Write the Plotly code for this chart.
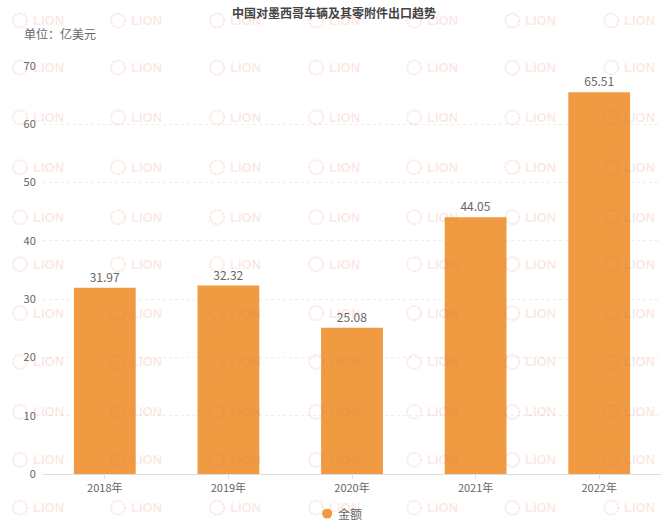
import plotly.graph_objects as go

years = ["2018年", "2019年", "2020年", "2021年", "2022年"]
amounts = [31.97, 32.32, 25.08, 44.05, 65.51]
y_ticks = [0, 10, 20, 30, 40, 50, 60, 70]

# watermark grid, centre of the logo gear in page pixels
mark_cols = [20, 118, 217, 316, 414, 512, 611]
mark_rows = [20, 67, 117, 167, 217, 264, 313, 362, 412, 460, 508]

FONT = "Noto Sans CJK SC"
BAR_COLOR = "#F09A42"
TEXT_COLOR = "#666666"
MARK_COLOR = "rgba(225,120,90,0.18)"

W, H = 668, 528
L, R, T, B = 43, 7.4, 65.5, 53.7


def page_x(px):
    # page pixel -> paper fraction of the plot area
    return (px - L) / (W - L - R)


def page_y(py):
    return 1 - (py - T) / (H - T - B)


fig = go.Figure()

fig.add_trace(go.Bar(
    x=years,
    y=amounts,
    name="金额",
    marker=dict(color=BAR_COLOR, line_width=0),
    text=[f"{v:.2f}" for v in amounts],
    textposition="outside",
    textfont=dict(color=TEXT_COLOR, size=12, family=FONT),
    cliponaxis=False,
    showlegend=False,
))

# --- faint watermark ---
for my in mark_rows:
    for mx in mark_cols:
        fig.add_shape(
            type="circle", xref="paper", yref="paper",
            x0=page_x(mx - 7), x1=page_x(mx + 7),
            y0=page_y(my + 7), y1=page_y(my - 7),
            line=dict(color=MARK_COLOR, width=2, dash="2px,1px"),
        )
        fig.add_annotation(
            x=page_x(mx + 28), y=page_y(my), xref="paper", yref="paper",
            xanchor="center", yanchor="middle",
            text="<b>LION</b>", showarrow=False,
            font=dict(size=13, color=MARK_COLOR, family="Liberation Sans"),
        )

fig.add_annotation(
    x=page_x(22), y=page_y(33), xref="paper", yref="paper",
    xanchor="left", yanchor="middle",
    text="单位：亿美元", showarrow=False,
    font=dict(size=12, color=TEXT_COLOR, family=FONT),
)

# --- legend, plotly's own keeps too wide a gap between swatch and text ---
fig.add_shape(
    type="circle", xref="paper", yref="paper",
    x0=page_x(322), x1=page_x(332),
    y0=page_y(519), y1=page_y(509),
    fillcolor=BAR_COLOR, line_width=0,
)
fig.add_annotation(
    x=page_x(336), y=page_y(514), xref="paper", yref="paper",
    xanchor="left", yanchor="middle",
    text="金额", showarrow=False,
    font=dict(size=12, color=TEXT_COLOR, family=FONT),
)

fig.update_layout(
    title=dict(
        text="<b>中国对墨西哥车辆及其零附件出口趋势</b>",
        x=334 / W, xanchor="center",
        y=1 - 14 / H, yanchor="middle",
        font=dict(size=12, color="#444444", family=FONT),
    ),
    width=W,
    height=H,
    autosize=False,
    margin=dict(l=L, r=R, t=T, b=B, autoexpand=False),
    bargap=0.5,
    showlegend=False,
    plot_bgcolor="white",
    paper_bgcolor="white",
    font=dict(family=FONT, size=11, color=TEXT_COLOR),
    xaxis=dict(
        showline=True, linecolor="#DDDDDD", linewidth=1,
        ticks="outside", ticklen=4, tickcolor="#DDDDDD",
        showgrid=False,
        tickfont=dict(size=11, color=TEXT_COLOR, family=FONT),
    ),
    yaxis=dict(
        range=[0, 70],
        tickvals=y_ticks,
        showline=False, zeroline=False,
        showgrid=True, gridcolor="#EEEEEE", griddash="3px,3px", gridwidth=1,
        ticks="outside", ticklen=4, tickcolor="rgba(0,0,0,0)",
        tickfont=dict(size=11, color=TEXT_COLOR, family=FONT),
    ),
)

# drop the default body margin so the figure fills the window
fig.write_html(
    "out.html",
    config={"displayModeBar": False},
    post_script="document.body.style.margin = '0';",
)
